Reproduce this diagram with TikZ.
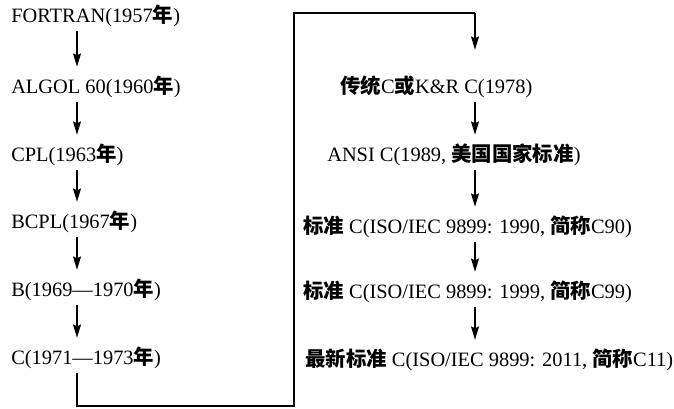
\documentclass[tikz,border=0pt]{standalone}
\usepackage{fontspec}
\setmainfont{Liberation Serif}
\newfontfamily\cjk{Noto Sans CJK SC}
\newcommand\zh[1]{{\cjk\bfseries #1}}
\usetikzlibrary{arrows.meta}
\begin{document}
\begin{tikzpicture}[x=0.75pt,y=-0.75pt,
  lang/.style={anchor=west,inner xsep=0pt,inner ysep=0pt,minimum height=26*0.75pt,
    font=\fontsize{15.3pt}{18pt}\selectfont},
  arr/.style={line width=1pt,-{Stealth[length=10pt,width=6pt,inset=1.5pt]},shorten <=2*0.75pt,shorten >=7*0.75pt},
  link/.style={line width=1pt}]
\useasboundingbox (0,0) rectangle (674,409);
% left column
\node[lang] (f)  at (11,16)  {FORTRAN(1957\zh{年})};
\node[lang] (al) at (11,87)  {ALGOL 60(1960\zh{年})};
\node[lang] (cp) at (11,155) {CPL(1963\zh{年})};
\node[lang] (bc) at (11,222) {BCPL(1967\zh{年})};
\node[lang] (b)  at (11,290) {B(1969—1970\zh{年})};
\node[lang] (c)  at (11,358) {C(1971—1973\zh{年})};
\coordinate (lx) at (77,0);
% right column
\node[lang] (kr)  at (340,87)  {\zh{传统}C\zh{或}K\&R C(1978)};
\node[lang] (an)  at (327,155) {ANSI C(1989, \zh{美国国家标准})};
\node[lang] (c90) at (303,227) {\zh{标准} C(ISO/IEC 9899: 1990, \zh{简称}C90)};
\node[lang] (c99) at (303,292) {\zh{标准} C(ISO/IEC 9899: 1999, \zh{简称}C99)};
\node[lang] (c11) at (305,360) {\zh{最新标准} C(ISO/IEC 9899: 2011, \zh{简称}C11)};
\coordinate (rx) at (475,0);
% left arrows
\draw[arr] (f.south -| lx) -- (al.north -| lx);
\draw[arr] (al.south -| lx) -- (cp.north -| lx);
\draw[arr] (cp.south -| lx) -- (bc.north -| lx);
\draw[arr] (bc.south -| lx) -- (b.north -| lx);
\draw[arr] (b.south -| lx) -- (c.north -| lx);
% connector from C to K&R C
\coordinate (p1) at (77,406);
\coordinate (p2) at (294,406);
\coordinate (p3) at (294,13);
\coordinate (p4) at (475,13);
\draw[link] ([yshift=-2*0.75pt]c.south -| lx) -- (p1) -- (p2) -- (p3) -- (p4);
\draw[arr,shorten <=0pt,shorten >=24*0.75pt] (p4) -- (kr.north -| rx);
% right arrows
\draw[arr] (kr.south -| rx) -- (an.north -| rx);
\draw[arr] (an.south -| rx) -- (c90.north -| rx);
\draw[arr] (c90.south -| rx) -- (c99.north -| rx);
\draw[arr] (c99.south -| rx) -- (c11.north -| rx);
\end{tikzpicture}
\end{document}
